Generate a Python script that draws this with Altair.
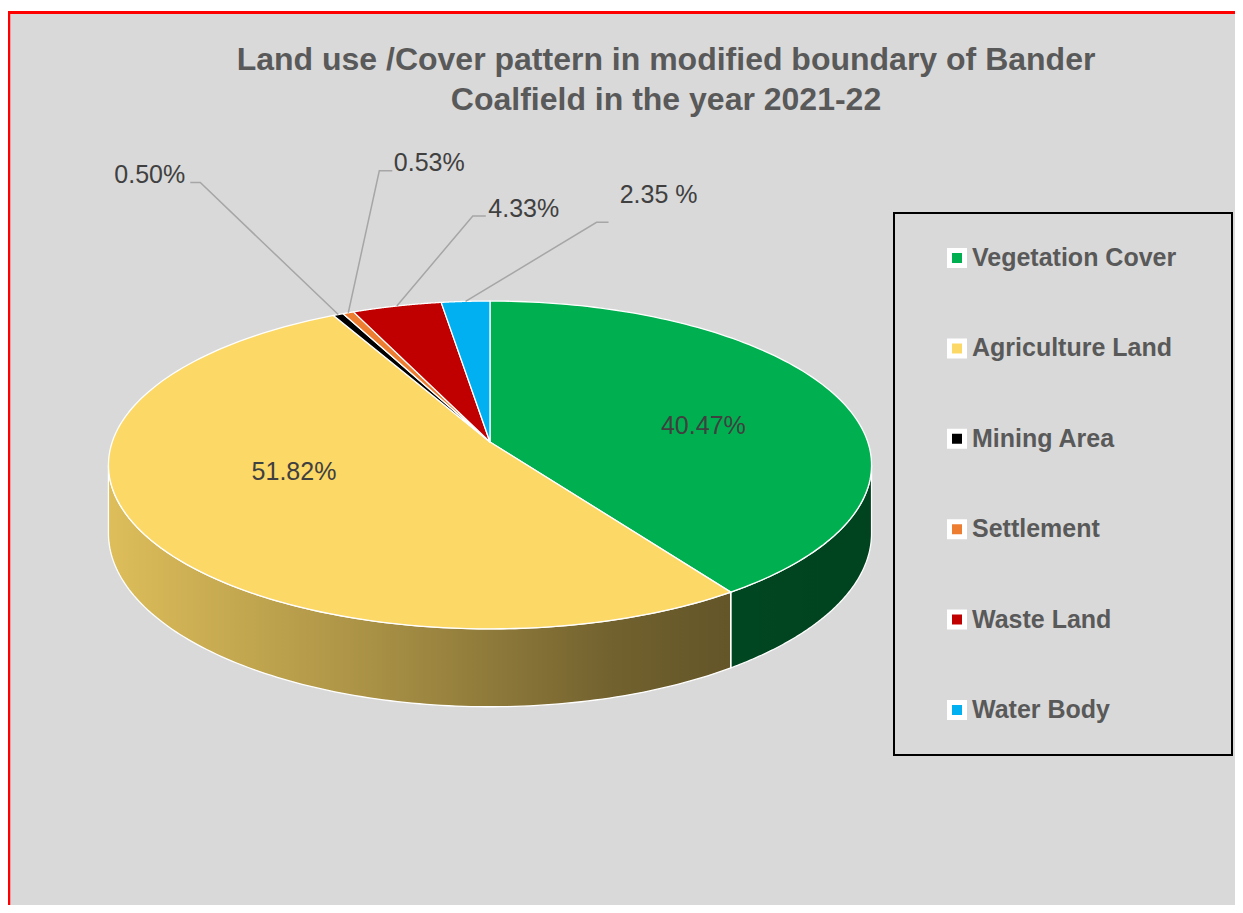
import math
import altair as alt
import pandas as pd

# ---------------- data ----------------
categories = ["Vegetation Cover", "Agriculture Land", "Mining Area",
              "Settlement", "Waste Land", "Water Body"]
shares = [40.47, 51.82, 0.50, 0.53, 4.33, 2.35]
label_texts = ["40.47%", "51.82%", "0.50%", "0.53%", "4.33%", "2.35 %"]
colors = ["#00b050", "#fcd867", "#000000", "#ed7d31", "#c00000", "#00b0f0"]

title_lines = "Land use /Cover pattern in modified boundary of Bander\nCoalfield in the year 2021-22"

# ---------------- label layout (pixel offsets) ----------------
lab_frac = [0.6, 0.6, 1.0, 1.0, 1.0, 1.0]      # radial position of label anchor
elbow_dx = [0, 0, -138, 31, 76, 131]
elbow_dy = [0, 0, -132, -142, -90, -79]
tail_dx = [0, 0, -10, 13, 13, 12]
text_dx = [2, 7, -40.5, 37, 38, 50]
text_dy = [20, -14, 0, 0, 1, -19]

# ---------------- geometry constants ----------------
W, H = 1227, 897
CX, CY = 482, 434          # apex of the pie (projected centre)
R, P, QR, D0 = 377.8, 0.14, 160.7, 67
N = 120
TL = math.acos(-P)
TR = 2 * math.pi - TL

df = pd.DataFrame({
    "cat": categories, "share": shares, "label": label_texts,
    "idx": list(range(len(categories))),
    "frac": lab_frac, "edx": elbow_dx, "edy": elbow_dy,
    "tdx": tail_dx, "ldx": text_dx, "ldy": text_dy,
})

xs = alt.Scale(domain=[0, W], nice=False, zero=False)
ys = alt.Scale(domain=[0, H], nice=False, zero=False, reverse=True)
cs = alt.Scale(domain=categories, range=colors)

base = alt.Chart(df).transform_window(
    cum="sum(share)", sort=[alt.SortField("idx", order="ascending")]
).transform_calculate(
    a0="2*PI*(datum.cum - datum.share)/100",
    a1="2*PI*datum.cum/100",
)

# ---- top face ----
top = base.transform_calculate(
    s=f"sequence(-1, {N + 1})"
).transform_flatten(["s"]).transform_calculate(
    th=f"datum.a0 + (datum.a1 - datum.a0) * max(datum.s, 0) / {N}"
).transform_calculate(
    px=f"datum.s < 0 ? {CX} : {CX} + {R}*sin(datum.th)/(1 + {P}*cos(datum.th))",
    py=f"datum.s < 0 ? {CY} : {CY} - {QR}*cos(datum.th)/(1 + {P}*cos(datum.th))",
).mark_line(
    stroke="white", strokeWidth=1.3, interpolate="linear-closed", strokeJoin="round"
).encode(
    x=alt.X("px:Q", scale=xs, axis=None),
    y=alt.Y("py:Q", scale=ys, axis=None),
    fill=alt.Fill("cat:N", scale=cs, legend=None),
    detail="cat:N",
    order="s:Q",
)

# ---- side wall ----
side_base = base.transform_calculate(
    b0=f"max(datum.a0, {TL})", b1=f"min(datum.a1, {TR})"
).transform_filter("datum.b1 > datum.b0").transform_calculate(
    s=f"sequence(0, {N + 1})"
).transform_flatten(["s"]).transform_calculate(
    th=f"datum.b0 + (datum.b1 - datum.b0) * datum.s / {N}"
).transform_calculate(
    k=f"1/(1 + {P}*cos(datum.th))"
).transform_calculate(
    px=f"{CX} + {R}*sin(datum.th)*datum.k",
    py=f"{CY} - {QR}*cos(datum.th)*datum.k",
).transform_calculate(
    py2=f"datum.py + {D0}*datum.k"
)

side_fill = side_base.mark_area(orient="vertical").encode(
    x=alt.X("px:Q", scale=xs, axis=None),
    y=alt.Y("py:Q", scale=ys, axis=None),
    y2="py2:Q",
    fill=alt.Fill("cat:N", scale=cs, legend=None),
    detail="cat:N",
)

shade = alt.Gradient(
    gradient="linear",
    stops=[
        alt.GradientStop(color="rgba(0,0,0,0.12)", offset=0),
        alt.GradientStop(color="rgba(0,0,0,0.30)", offset=0.3),
        alt.GradientStop(color="rgba(0,0,0,0.40)", offset=0.45),
        alt.GradientStop(color="rgba(0,0,0,0.55)", offset=0.66),
        alt.GradientStop(color="rgba(0,0,0,0.60)", offset=0.8),
        alt.GradientStop(color="rgba(0,0,0,0.62)", offset=1),
    ],
    x1=0, x2=1, y1=0, y2=0,
)
side_shade = side_base.mark_area(orient="vertical", fill=shade).encode(
    x=alt.X("px:Q", scale=xs, axis=None),
    y=alt.Y("py:Q", scale=ys, axis=None),
    y2="py2:Q",
)
side_edge = side_base.mark_area(
    orient="vertical", fill="transparent", stroke="white", strokeWidth=1.3
).encode(
    x=alt.X("px:Q", scale=xs, axis=None),
    y=alt.Y("py:Q", scale=ys, axis=None),
    y2="py2:Q",
    detail="cat:N",
)

# ---- labels & leader lines ----
lab_base = base.transform_calculate(
    mid="(datum.a0 + datum.a1)/2"
).transform_calculate(
    kk=f"1/(1 + {P}*datum.frac*cos(datum.mid))"
).transform_calculate(
    ax=f"{CX} + datum.frac*{R}*sin(datum.mid)*datum.kk",
    ay=f"{CY} - datum.frac*{QR}*cos(datum.mid)*datum.kk",
).transform_calculate(
    ex="datum.ax + datum.edx", ey="datum.ay + datum.edy"
).transform_calculate(
    tx="datum.ex + datum.tdx"
)

leaders = lab_base.transform_filter("datum.tdx != 0").transform_calculate(
    s="sequence(0, 3)"
).transform_flatten(["s"]).transform_calculate(
    px="datum.s == 0 ? datum.ax : (datum.s == 1 ? datum.ex : datum.tx)",
    py="datum.s == 0 ? datum.ay : datum.ey",
).mark_line(color="#a6a6a6", strokeWidth=1.5).encode(
    x=alt.X("px:Q", scale=xs, axis=None),
    y=alt.Y("py:Q", scale=ys, axis=None),
    detail="cat:N",
    order="s:Q",
)

labels = lab_base.transform_calculate(
    lx="datum.tx + datum.ldx", ly="datum.ey + datum.ldy"
).mark_text(
    font="Liberation Sans", fontSize=25, color="#404040",
    align="center", baseline="alphabetic"
).encode(
    x=alt.X("lx:Q", scale=xs, axis=None),
    y=alt.Y("ly:Q", scale=ys, axis=None),
    text="label:N",
)

# ---- title ----
title = alt.Chart(pd.DataFrame({"t": [title_lines]})).mark_text(
    font="Liberation Sans", fontSize=32, fontWeight="bold", color="#595959",
    align="center", baseline="alphabetic", lineBreak="\n", lineHeight=40,
).encode(x=alt.value(658), y=alt.value(62), text="t:N")

# ---- legend ----
LY0, LDY = 250, 90.4
leg = alt.Chart(df).transform_calculate(ly=f"{LY0} + datum.idx*{LDY}")
leg_sym = leg.mark_square(size=225, stroke="white", strokeWidth=5, opacity=1).encode(
    x=alt.value(949),
    y=alt.Y("ly:Q", scale=ys, axis=None),
    fill=alt.Fill("cat:N", scale=cs, legend=None),
)
leg_txt = leg.mark_text(
    font="Liberation Sans", fontSize=25, fontWeight="bold", color="#595959",
    align="left", baseline="middle"
).encode(
    x=alt.value(964),
    y=alt.Y("ly:Q", scale=ys, axis=None),
    text="cat:N",
)
one = pd.DataFrame({"a": [0]})
leg_box = alt.Chart(one).mark_rect(fillOpacity=0, stroke="black", strokeWidth=2).encode(
    x=alt.value(886), x2=alt.value(1224), y=alt.value(205), y2=alt.value(747)
)

# ---- frame decoration ----
white_top = alt.Chart(one).mark_rect(color="white").encode(
    x=alt.value(0), x2=alt.value(W), y=alt.value(0), y2=alt.value(3)
)
red_top = alt.Chart(one).mark_rule(color="red", strokeWidth=3).encode(
    x=alt.value(0), x2=alt.value(W), y=alt.value(4.5)
)
red_left = alt.Chart(one).mark_rule(color="red", strokeWidth=2.5).encode(
    x=alt.value(1), y=alt.value(3), y2=alt.value(H)
)

chart = alt.layer(
    white_top, red_top, red_left,
    side_fill, side_shade, side_edge, top,
    leaders, labels, title,
    leg_box, leg_sym, leg_txt,
).properties(
    width=W, height=H, background="#d9d9d9", padding=0, autosize="none"
).configure_view(strokeWidth=0)

chart.save("out.html", embed_options={"renderer": "svg", "actions": False})
